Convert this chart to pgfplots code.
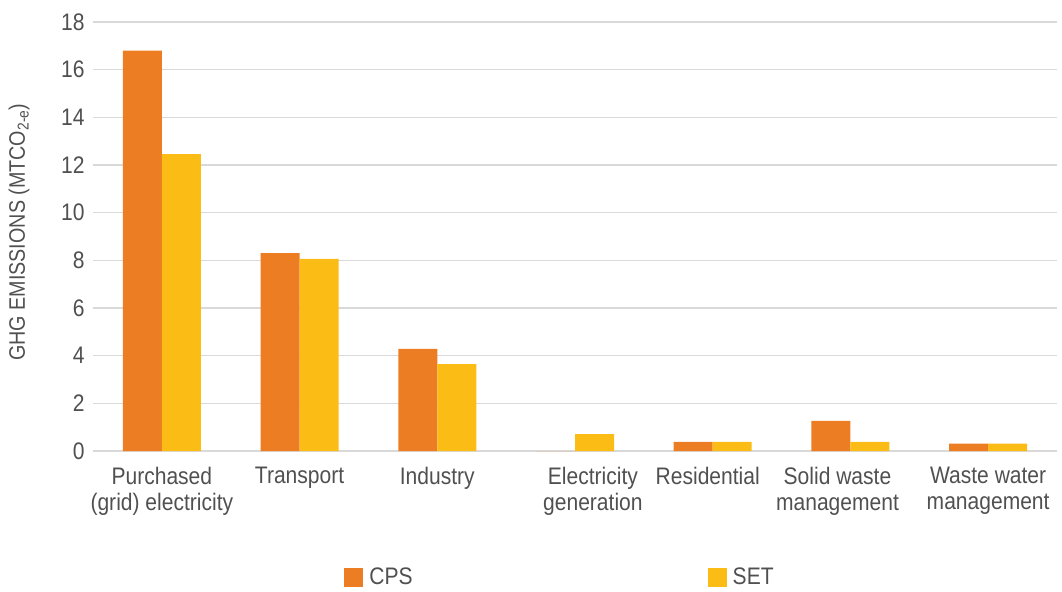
\documentclass[border=0pt]{standalone}
\usepackage{fontspec}
\setmainfont{Liberation Sans}[FakeStretch=0.88]
\usepackage{pgfplots}
\pgfplotsset{compat=1.18}
\definecolor{cps}{RGB}{237,125,34}
\definecolor{setc}{RGB}{251,188,21}
\definecolor{gridc}{RGB}{217,217,217}
\definecolor{txt}{RGB}{80,80,80}
\begin{document}
\begin{tikzpicture}
\begin{axis}[
  scale only axis, width=964bp, height=429bp,
  at={(0,0)}, anchor=south west,
  xmin=-0.5, xmax=6.5, ymin=0, ymax=18,
  ytick={0,2,...,18},
  xtick={0,1,2,3.13,3.964,4.906,6},
  xticklabels={{Purchased\\(grid) electricity},{Transport},{Industry},{Electricity\\generation},{Residential},{Solid waste\\management},{Waste water\\management}},
  axis lines=left, axis line style={draw=none},
  ymajorgrids, grid style={gridc, line width=1.3bp},
  major tick length=0pt,
  /pgf/number format/assume math mode=true,
  tick label style={font=\fontsize{24}{26}\selectfont, text=txt},
  yticklabel style={xshift=-5bp},
  xticklabel style={align=center, yshift=-13bp},
  ylabel={GHG EMISSIONS (MTCO\textsubscript{2-e})},
  ylabel style={at={(axis description cs:-0.0768,0.51)}, anchor=center, font=\fontsize{22.5}{26}\selectfont, text=txt},
  ybar=0pt, bar width=39bp,
  clip=false,
  legend columns=2,
  legend style={at={(axis description cs:0.4845,-0.294)}, anchor=center, draw=none, fill=none,
    font=\fontsize{24}{26}\selectfont, text=txt,
    /tikz/every even column/.append style={column sep=293bp},
    /tikz/every odd column/.append style={column sep=4bp}},
  legend image code/.code={\fill[#1,draw=none] (0bp,-9.5bp) rectangle (19bp,9.5bp);},
]
\addplot[fill=cps, draw=none] coordinates {(0,16.8) (1,8.3) (2,4.28) (3,0) (4,0.38) (5,1.26) (6,0.31)};
\addplot[fill=setc, draw=none] coordinates {(0,12.46) (1,8.06) (2,3.65) (3,0.71) (4,0.38) (5,0.38) (6,0.31)};
\legend{CPS,SET}
\end{axis}
\pgfresetboundingbox
\path (-93bp,-141bp) rectangle (969bp,451bp);
\end{tikzpicture}
\end{document}
